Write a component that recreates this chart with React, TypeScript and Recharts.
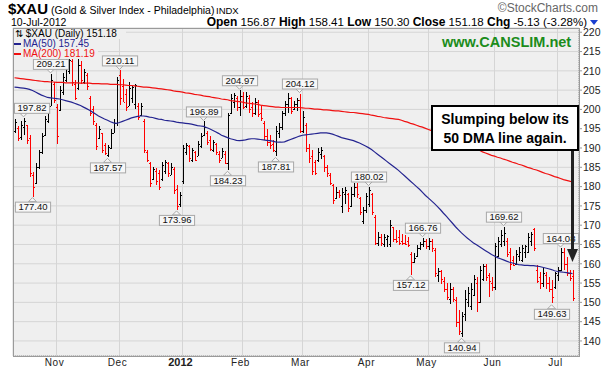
import React from 'react';
import { ComposedChart, Bar, Line, XAxis, YAxis, CartesianGrid, ReferenceDot } from 'recharts';

// daily bars [open, high, low, close], one list per month (Oct 12 2011 .. Jul 10 2012)
const octBars = [
  [194.5, 197.4, 193.9, 196.8], [195.2, 195.7, 191.8, 192.5], [192.8, 197.0, 192.2, 196.0], [195.5, 197.82, 193.5, 197.0],
  [196.0, 196.0, 191.0, 192.0], [192.5, 193.5, 182.6, 183.5], [183.0, 183.8, 177.4, 180.0], [181.0, 186.0, 180.5, 185.2],
  [185.0, 189.5, 184.5, 189.0], [189.0, 194.0, 188.5, 193.2], [193.5, 198.3, 193.0, 197.5], [197.0, 201.5, 196.5, 200.8],
  [201.0, 209.21, 200.9, 207.5], [206.5, 207.0, 201.5, 202.5],
];
const novBars = [
  [200.5, 201.3, 190.9, 193.0], [199.8, 206.1, 199.6, 205.0], [204.5, 209.5, 203.9, 208.5], [207.5, 213.0, 207.0, 211.5],
  [210.0, 213.5, 209.0, 212.8], [212.5, 213.0, 206.0, 207.0], [206.5, 207.5, 202.2, 203.0], [205.5, 213.0, 205.0, 211.5],
  [211.5, 212.5, 206.5, 207.5], [207.0, 210.5, 206.5, 209.8], [209.0, 209.5, 205.2, 206.0], [203.0, 203.5, 198.3, 199.0],
  [200.0, 200.9, 196.1, 197.0], [196.0, 196.5, 189.6, 190.5], [192.5, 195.6, 192.2, 194.8], [194.0, 194.0, 188.7, 189.5],
  [190.8, 191.3, 188.3, 188.8], [188.2, 190.8, 187.57, 190.2], [190.0, 194.8, 189.6, 194.0], [194.0, 197.4, 193.9, 196.5],
  [196.5, 208.5, 195.7, 207.5],
];
const decBars = [
  [209.0, 210.11, 201.0, 203.0], [206.0, 207.8, 201.8, 202.0], [204.0, 205.2, 199.6, 200.5], [201.0, 207.0, 200.9, 205.5],
  [203.0, 206.1, 201.7, 205.8], [201.5, 206.5, 200.0, 206.2], [201.0, 201.7, 197.4, 198.0], [198.5, 201.7, 198.3, 200.8],
  [197.0, 197.4, 188.7, 189.5], [189.0, 189.6, 186.5, 187.0], [186.0, 186.5, 180.0, 181.0], [182.0, 185.2, 181.8, 184.5],
  [184.0, 184.8, 180.5, 181.5], [183.5, 184.4, 179.2, 180.0], [182.0, 186.5, 181.5, 185.5], [184.0, 187.0, 183.5, 186.5],
  [186.0, 186.5, 182.5, 183.5], [183.0, 186.0, 182.8, 185.0], [184.5, 185.0, 178.0, 179.0], [179.5, 180.5, 173.96, 175.0],
  [175.5, 178.5, 174.5, 177.8],
];
const janBars = [
  [181.5, 190.9, 180.9, 190.0], [189.0, 191.3, 188.3, 190.8], [190.5, 190.9, 186.5, 187.5], [187.0, 190.0, 186.5, 189.5],
  [189.0, 189.1, 186.5, 187.0], [188.0, 191.7, 187.8, 191.0], [190.5, 193.9, 190.0, 193.2], [193.5, 196.89, 193.0, 195.5],
  [194.0, 194.4, 190.9, 191.5], [192.0, 193.0, 189.1, 189.8], [189.5, 192.2, 189.1, 191.5], [191.0, 191.3, 188.3, 189.0],
  [188.5, 189.1, 186.1, 186.8], [187.5, 190.0, 187.4, 189.2], [188.5, 189.1, 185.7, 186.0], [186.0, 199.1, 184.23, 198.5],
  [199.0, 203.9, 198.7, 203.0], [202.0, 204.3, 200.4, 203.8], [203.0, 203.5, 199.6, 200.5], [200.5, 204.97, 198.3, 203.5],
];
const febBars = [
  [203.5, 204.5, 200.0, 200.5], [200.8, 204.5, 200.4, 203.5], [203.0, 203.8, 199.2, 200.0], [200.5, 202.0, 198.0, 199.0],
  [199.0, 203.0, 198.5, 202.0], [202.0, 202.5, 198.0, 198.8], [199.0, 201.0, 197.0, 197.8], [196.5, 197.0, 192.0, 193.0],
  [193.0, 195.0, 190.5, 191.5], [191.5, 193.5, 190.0, 190.8], [191.0, 192.0, 189.0, 189.5], [189.2, 195.7, 187.81, 194.5],
  [194.0, 196.5, 192.5, 195.5], [195.5, 199.6, 194.8, 199.0], [199.0, 202.2, 198.3, 201.5], [201.5, 204.3, 199.1, 203.0],
  [203.0, 203.2, 198.7, 199.5], [200.0, 202.2, 199.8, 201.5], [201.5, 203.0, 199.6, 202.5], [202.5, 204.12, 193.9, 194.5],
];
const marBars = [
  [194.5, 199.6, 194.0, 198.0], [196.0, 196.5, 189.0, 190.0], [190.0, 191.0, 186.0, 187.5], [188.0, 189.6, 183.1, 184.0],
  [186.5, 187.0, 183.1, 183.5], [186.8, 190.0, 186.3, 189.0], [188.5, 190.2, 187.0, 189.5], [187.8, 188.2, 183.9, 185.0],
  [185.0, 185.7, 182.6, 183.5], [183.0, 183.5, 180.5, 181.0], [180.4, 180.8, 175.7, 176.5], [177.0, 180.0, 176.8, 178.5],
  [178.5, 179.2, 177.2, 177.8], [175.0, 179.6, 173.1, 178.5], [178.0, 180.0, 175.7, 179.0], [178.0, 178.3, 173.5, 174.5],
  [175.0, 180.0, 174.8, 178.0], [178.0, 180.9, 177.4, 180.0], [180.0, 180.9, 177.0, 178.0], [177.0, 177.4, 172.7, 173.5],
  [171.0, 174.8, 170.5, 174.0], [174.0, 178.3, 173.1, 177.5],
];
const aprBars = [
  [175.5, 180.02, 174.8, 179.0], [178.0, 178.3, 172.7, 173.5], [172.0, 172.7, 164.8, 165.5], [165.5, 168.3, 164.8, 167.0],
  [167.0, 167.8, 164.8, 165.5], [165.0, 167.8, 164.4, 167.0], [166.5, 167.4, 164.4, 167.2], [165.0, 171.3, 164.4, 170.0],
  [169.5, 169.6, 165.7, 166.5], [166.5, 168.7, 165.3, 166.0], [167.0, 168.7, 164.8, 165.5], [166.0, 167.8, 165.0, 165.3],
  [165.5, 167.4, 164.8, 165.0], [166.0, 167.0, 164.4, 164.8], [162.5, 163.1, 157.12, 160.5], [160.5, 162.7, 160.1, 161.5],
  [162.0, 164.8, 161.8, 164.0], [164.0, 165.7, 163.5, 165.0], [165.0, 166.76, 164.4, 166.0], [166.0, 166.5, 164.0, 164.5],
];
const mayBars = [
  [164.5, 166.6, 163.5, 166.0], [166.0, 166.3, 163.0, 164.0], [163.5, 164.0, 156.5, 157.5], [157.0, 159.0, 155.5, 158.0],
  [158.0, 158.5, 155.0, 156.0], [155.5, 156.5, 152.5, 153.5], [153.5, 155.0, 150.5, 151.5], [151.0, 155.0, 149.5, 153.5],
  [153.5, 154.0, 150.0, 151.0], [150.5, 151.4, 143.6, 145.0], [145.0, 147.9, 141.4, 142.5], [142.0, 147.5, 140.94, 146.5],
  [147.0, 153.1, 145.0, 151.0], [150.0, 154.0, 148.8, 152.5], [149.0, 154.9, 147.9, 153.5], [152.0, 157.0, 151.5, 156.0],
  [155.0, 156.5, 147.5, 150.0], [150.0, 159.5, 149.8, 158.5], [156.0, 160.0, 155.5, 159.5], [159.5, 160.0, 155.5, 156.5],
  [157.0, 157.5, 151.4, 155.5], [155.0, 156.6, 153.0, 154.0],
];
const junBars = [
  [154.0, 165.3, 153.1, 164.5], [162.0, 167.0, 161.8, 166.0], [165.0, 168.8, 164.4, 167.5], [166.0, 169.62, 164.8, 168.0],
  [166.0, 166.6, 161.8, 162.5], [163.0, 164.0, 158.3, 160.0], [161.0, 162.0, 159.5, 159.8], [160.0, 163.5, 159.6, 162.5],
  [162.0, 164.4, 160.9, 163.0], [161.0, 164.8, 160.5, 164.0], [163.0, 164.8, 161.4, 164.5], [163.0, 167.9, 162.7, 167.0],
  [166.0, 168.3, 164.8, 167.8], [169.0, 169.4, 163.5, 164.0], [158.5, 159.6, 154.9, 155.5], [156.5, 157.9, 153.6, 155.0],
  [155.0, 158.8, 154.0, 157.5], [157.0, 157.9, 153.6, 155.0], [155.0, 156.6, 152.7, 153.5], [153.5, 155.7, 149.63, 151.5],
  [154.0, 157.9, 153.6, 157.5],
];
const julBars = [
  [157.0, 159.2, 155.7, 158.5], [158.5, 164.08, 158.0, 163.0], [163.0, 164.0, 158.3, 160.0], [160.0, 161.8, 157.0, 157.5],
  [157.5, 158.5, 155.7, 156.31], [156.87, 158.41, 150.3, 151.18],
];

const ma50 = [
  205.8, 205.7, 205.6, 205.5, 205.4, 205.2, 204.9, 204.5, 204.1, 203.7, 203.4, 203.1, 203.0, 202.9,
  202.8, 202.7, 202.5, 202.3, 202.1, 201.9, 201.6, 201.3, 201.0, 200.6, 200.2, 199.8, 199.3, 198.8, 198.3, 197.9, 197.5, 197.2, 196.8, 196.5, 196.4,
  196.6, 196.9, 197.2, 197.5, 197.8, 198.0, 198.2, 198.3, 198.3, 198.2, 198.0, 197.9, 197.7, 197.5, 197.4, 197.2, 197.1, 197.0, 196.9, 196.7, 196.6,
  196.5, 196.4, 196.3, 196.2, 196.0, 195.8, 195.7, 195.6, 195.3, 195.0, 194.6, 194.2, 193.8, 193.3, 193.0, 192.7, 192.4, 192.2, 192.0, 191.9,
  192.0, 192.1, 192.3, 192.4, 192.4, 192.3, 192.2, 192.1, 192.0, 191.9, 191.8, 191.6, 191.5, 191.5, 191.6, 191.9, 192.2, 192.5, 192.8, 193.1,
  193.3, 193.4, 193.5, 193.6, 193.7, 193.8, 193.9, 193.9, 193.9, 193.8, 193.6, 193.3, 193.0, 192.7, 192.5, 192.3, 192.1, 191.9, 191.6, 191.3, 190.9, 190.5,
  190.1, 189.6, 189.0, 188.4, 187.8, 187.2, 186.6, 186.0, 185.4, 184.8, 184.2, 183.5, 182.8, 182.1, 181.4, 180.7, 180.0, 179.3, 178.5, 177.7,
  177.0, 176.3, 175.6, 174.8, 174.0, 173.1, 172.3, 171.4, 170.5, 169.6, 168.8, 168.0, 167.3, 166.6, 166.0, 165.4, 164.9, 164.4, 163.9, 163.4, 162.9, 162.4,
  162.0, 161.6, 161.3, 161.0, 160.7, 160.4, 160.2, 160.0, 159.8, 159.7, 159.6, 159.6, 159.5, 159.5, 159.4, 159.3, 159.1, 158.9, 158.7, 158.5, 158.2,
  158.0, 157.9, 157.8, 157.7, 157.6, 157.45,
];

const ma200 = [
  208.2, 208.1, 208.0, 207.9, 207.8, 207.7, 207.6, 207.5, 207.4, 207.3, 207.2, 207.2, 207.1, 207.1,
  207.0, 207.0, 207.0, 206.9, 206.9, 206.9, 206.9, 206.9, 206.8, 206.8, 206.8, 206.8, 206.7, 206.7, 206.7, 206.6, 206.6, 206.6, 206.5, 206.5, 206.5,
  206.4, 206.4, 206.3, 206.2, 206.2, 206.1, 206.0, 205.9, 205.8, 205.8, 205.7, 205.6, 205.5, 205.4, 205.3, 205.2, 205.1, 205.0, 204.8, 204.7, 204.6,
  204.5, 204.3, 204.2, 204.1, 203.9, 203.8, 203.7, 203.5, 203.4, 203.3, 203.1, 203.0, 202.9, 202.7, 202.6, 202.5, 202.3, 202.2, 202.1, 202.0,
  201.9, 201.7, 201.6, 201.5, 201.4, 201.3, 201.1, 201.0, 200.9, 200.8, 200.7, 200.6, 200.6, 200.5, 200.5, 200.5, 200.5, 200.5, 200.5, 200.5,
  200.4, 200.3, 200.3, 200.2, 200.1, 200.1, 200.0, 199.9, 199.9, 199.8, 199.7, 199.6, 199.6, 199.5, 199.4, 199.3, 199.2, 199.2, 199.1, 199.0, 198.9, 198.8,
  198.7, 198.5, 198.4, 198.2, 198.1, 197.9, 197.8, 197.7, 197.6, 197.5, 197.4, 197.2, 196.9, 196.7, 196.4, 196.2, 195.9, 195.6, 195.4, 195.1,
  194.8, 194.5, 194.2, 193.9, 193.6, 193.3, 193.0, 192.6, 192.3, 192.0, 191.7, 191.4, 191.0, 190.7, 190.4, 190.1, 189.7, 189.4, 189.0, 188.7, 188.4, 188.1,
  187.9, 187.6, 187.4, 187.1, 186.9, 186.6, 186.3, 186.1, 185.8, 185.6, 185.3, 185.0, 184.8, 184.5, 184.3, 184.0, 183.7, 183.4, 183.2, 182.9, 182.6,
  182.4, 182.1, 181.8, 181.6, 181.4, 181.19,
];

// first trading day of each month (bar index) and its label
const monthTicks = [14, 35, 56, 76, 96, 118, 138, 160, 181];
const monthLabels = ['Nov', 'Dec', '2012', 'Feb', 'Mar', 'Apr', 'May', 'Jun', 'Jul'];
const priceTicks = [140, 145, 150, 155, 160, 165, 170, 175, 180, 185, 190, 195, 200, 205, 210, 215, 220];

// swing highs / lows that carry a value tag
const swingTags: { i: number; kind: 'high' | 'low' }[] = [
  { i: 3, kind: 'high' }, { i: 6, kind: 'low' }, { i: 12, kind: 'high' }, { i: 31, kind: 'low' },
  { i: 35, kind: 'high' }, { i: 54, kind: 'low' }, { i: 63, kind: 'high' }, { i: 71, kind: 'low' },
  { i: 75, kind: 'high' }, { i: 87, kind: 'low' }, { i: 95, kind: 'high' }, { i: 118, kind: 'high' },
  { i: 132, kind: 'low' }, { i: 136, kind: 'high' }, { i: 149, kind: 'low' }, { i: 163, kind: 'high' },
  { i: 179, kind: 'low' }, { i: 182, kind: 'high' },
];

const bars = [...octBars, ...novBars, ...decBars, ...janBars, ...febBars, ...marBars, ...aprBars, ...mayBars, ...junBars, ...julBars];

const data = bars.map(([o, h, l, c], i) => ({
  i,
  o, h, l, c,
  range: [l, h],
  up: i === 0 || c >= bars[i - 1][3],
  ma50: ma50[i],
  ma200: ma200[i],
}));

const PLOT = { left: 13, top: 28, right: 579, bottom: 356 };
const FONT = 'Arial, "Liberation Sans", sans-serif';

function OhlcBar(props: any) {
  const { x, y, width, height, payload } = props;
  if (!payload) return null;
  const top = Math.min(y, y + height);
  const hgt = Math.max(1, Math.abs(height));
  const cx = Math.round(x + width / 2);
  const span = payload.h - payload.l;
  const yo = span > 0 ? top + ((payload.h - payload.o) / span) * hgt : top;
  const yc = span > 0 ? top + ((payload.h - payload.c) / span) * hgt : top;
  const color = payload.up ? '#000000' : '#ff0000';
  return (
    <g fill={color}>
      <rect x={cx} y={Math.round(top)} width={1} height={Math.max(1, Math.round(hgt))} />
      <rect x={cx - 1} y={Math.round(yo)} width={1} height={1} />
      <rect x={cx + 1} y={Math.round(yc)} width={1} height={1} />
    </g>
  );
}

function SwingTag(props: any) {
  const { cx, cy, text, kind } = props;
  if (cx == null || cy == null) return null;
  const w = text.length * 5.2 + 4;
  const h = 10;
  const bx = Math.max(PLOT.left + 1, Math.min(cx - w / 2, PLOT.right - w - 1));
  const gap = 5;
  const boxY = kind === 'high' ? cy - gap - h : cy + gap;
  const edge = kind === 'high' ? cy - gap : cy + gap;
  const apex = kind === 'high' ? cy - 1 : cy + 1;
  return (
    <g>
      <polygon points={`${cx - 4},${edge} ${cx},${apex} ${cx + 4},${edge}`} fill="#f7f7f7" stroke="#a8a8a8" strokeWidth={1} />
      <rect x={bx + 0.5} y={boxY + 0.5} width={w} height={h} fill="#f7f7f7" stroke="#a8a8a8" strokeWidth={1} />
      <text x={bx + w / 2 + 0.5} y={boxY + 8.5} textAnchor="middle" fontSize={9.5} fontFamily={FONT} fill="#111">
        {text}
      </text>
    </g>
  );
}

function MonthTick(props: any) {
  const { x, payload } = props;
  const idx = monthTicks.indexOf(payload.value);
  const label = monthLabels[idx] ?? '';
  const bold = label === '2012';
  return (
    <text x={x - 2} y={366} textAnchor="middle" fontSize={bold ? 11 : 10} fontWeight={bold ? 'bold' : 'normal'}
      fontFamily={FONT} fill="#222" letterSpacing={bold ? 0 : 0.6}>
      {label}
    </text>
  );
}

export default function App() {
  return (
    <div style={{ position: 'absolute', left: 0, top: 0, width: 608, height: 374, background: '#ffffff' }}>
      <ComposedChart width={608} height={374} data={data} margin={{ top: PLOT.top, right: 0, bottom: 0, left: PLOT.left }}
        barCategoryGap={0}>
        <CartesianGrid fill="#efefef" stroke="#d5d5d5" strokeWidth={1} />
        <XAxis dataKey="i" type="category" ticks={monthTicks} interval={0} height={18} tickLine={false}
          axisLine={{ stroke: '#999', strokeDasharray: '1 1' }} padding={{ left: 0, right: 5 }} tick={<MonthTick />} />
        <YAxis orientation="right" width={29} type="number" domain={[136.1, 221.1]} allowDataOverflow ticks={priceTicks}
          interval={0} tickSize={3} tickMargin={1} axisLine={{ stroke: '#999', strokeDasharray: '1 1' }}
          tickLine={{ stroke: '#999' }} tick={{ fontSize: 10.5, fill: '#222', fontFamily: FONT }} />
        <Line type="linear" dataKey="ma200" stroke="#f01010" strokeWidth={1.2} dot={false} isAnimationActive={false} />
        <Line type="linear" dataKey="ma50" stroke="#242490" strokeWidth={1.2} dot={false} isAnimationActive={false} />
        <Bar dataKey="range" isAnimationActive={false} shape={(p: any) => <OhlcBar {...p} />} />
        {swingTags.map((t) => {
          const b = bars[t.i];
          const v = t.kind === 'high' ? b[1] : b[2];
          return (
            <ReferenceDot key={t.i} x={t.i} y={v} r={0} ifOverflow="visible"
              shape={(p: any) => <SwingTag {...p} text={v.toFixed(2)} kind={t.kind} />} />
          );
        })}
      </ComposedChart>

      <svg width={608} height={374} style={{ position: 'absolute', left: 0, top: 0, pointerEvents: 'none' }}>
        <rect x={PLOT.left + 0.5} y={PLOT.top + 0.5} width={PLOT.right - PLOT.left} height={PLOT.bottom - PLOT.top}
          fill="none" stroke="#9a9a9a" />

        {/* header */}
        <text x={8} y={14} fontFamily={FONT} fontSize={15} fontWeight="bold" fill="#000">$XAU</text>
        <text x={51} y={14} fontFamily={FONT} fontSize={10.5} fill="#000">(Gold &amp; Silver Index - Philadelphia)</text>
        <text x={216} y={14} fontFamily={FONT} fontSize={9.5} fill="#000">INDX</text>
        <text x={598} y={12} textAnchor="end" fontFamily={FONT} fontSize={12} fill="#666">©StockCharts.com</text>
        <text x={11} y={26} fontFamily={FONT} fontSize={10.5} fill="#000">10-Jul-2012</text>
        <text x={587} y={26} textAnchor="end" fontFamily={FONT} fontSize={11.5} fill="#000">
          <tspan fontWeight="bold" fontSize={12}>Open</tspan> 156.87 <tspan fontWeight="bold" fontSize={12}>High</tspan> 158.41{' '}
          <tspan fontWeight="bold" fontSize={12}>Low</tspan> 150.30 <tspan fontWeight="bold" fontSize={12}>Close</tspan> 151.18{' '}
          <tspan fontWeight="bold" fontSize={12}>Chg</tspan> -5.13 (-3.28%)
        </text>
        <polygon points="590,20 598,20 594,25" fill="#1a3fd0" />

        {/* legend */}
        <rect x={PLOT.left + 1} y={PLOT.top + 1} width={112} height={10} fill="#efefef" />
        <rect x={PLOT.left + 1} y={PLOT.top + 11} width={84} height={20} fill="#efefef" />
        <text x={15} y={37} fontFamily={FONT} fontSize={10} fill="#000">⇅ $XAU (Daily) 151.18</text>
        <rect x={14} y={43} width={7} height={2} fill="#242490" />
        <text x={23} y={47} fontFamily={FONT} fontSize={10} fill="#242490">MA(50) 157.45</text>
        <rect x={14} y={53} width={7} height={2} fill="#f01010" />
        <text x={23} y={57} fontFamily={FONT} fontSize={10} fill="#f01010">MA(200) 181.19</text>

        <text x={442} y={47} fontFamily={FONT} fontSize={14.5} fontWeight="bold" fill="#1b8c1b">www.CANSLIM.net</text>

        {/* annotation */}
        <rect x={432} y={106} width={146} height={44} fill="#ffffff" stroke="#000" strokeWidth={2} />
        <text x={505} y={124} textAnchor="middle" fontFamily={FONT} fontSize={14} fontWeight="bold" fill="#000">Slumping below its</text>
        <text x={505} y={143} textAnchor="middle" fontFamily={FONT} fontSize={14} fontWeight="bold" fill="#000">50 DMA line again.</text>
        <line x1={572.5} y1={151} x2={572.5} y2={251} stroke="#222" strokeWidth={3} />
        <polygon points="567,249 578,249 572.5,262" fill="#222" />
      </svg>
    </div>
  );
}
